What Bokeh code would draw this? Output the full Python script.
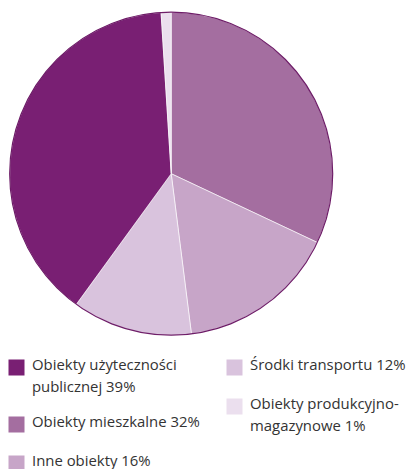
import math
from bokeh.plotting import figure
from bokeh.models import ColumnDataSource
from bokeh.core.properties import value
from bokeh.embed import file_html
from bokeh.resources import INLINE

# Data (clockwise from 12 o'clock)
slice_names = ["Obiekty mieszkalne", "Inne obiekty", "Środki transportu",
               "Obiekty użyteczności publicznej", "Obiekty produkcyjno-magazynowe"]
slice_values = [32, 16, 12, 39, 1]
slice_colors = ["#a46ea0", "#c7a5c8", "#d9c3dd", "#791f73", "#ebdfee"]

# Legend (in display order)
legend_labels = ["Obiekty użyteczności\npublicznej 39%", "Obiekty mieszkalne 32%", "Inne obiekty 16%",
                 "Środki transportu 12%", "Obiekty produkcyjno-\nmagazynowe 1%"]
legend_colors = ["#791f73", "#a46ea0", "#c7a5c8", "#d9c3dd", "#ebdfee"]

W, H = 406, 469
p = figure(width=W, height=H, x_range=(0, W), y_range=(0, H),
           output_backend="svg", toolbar_location=None, min_border=0)
p.axis.visible = False
p.grid.visible = False
p.outline_line_color = None
p.background_fill_color = "white"

cx, cy, r = 170.7, H - 173.2, 161.5
total = sum(slice_values)
starts, ends = [], []
a = math.pi / 2
for v in slice_values:
    starts.append(a)
    a -= v / total * 2 * math.pi
    ends.append(a)
src = ColumnDataSource(dict(start=starts, end=ends, color=slice_colors, name=slice_names))
p.wedge(x=cx, y=cy, radius=r, start_angle="start", end_angle="end", direction="clock",
        fill_color="color", line_color="white", line_width=0.6, source=src)
p.circle(x=cx, y=cy, radius=r, fill_color=None, line_color="#6e1d68", line_width=1.2)

# legend layout
col_x = [8, 8, 8, 226, 226]
row_y = [359, 416, 455, 359, 398]
sq = 16
lx = [c + sq / 2 for c in col_x]
ly = [H - (y + sq / 2) for y in row_y]
p.rect(x=lx, y=ly, width=sq, height=sq, fill_color=legend_colors, line_color=None)
tsrc = ColumnDataSource(dict(x=[c + 23.5 for c in col_x], y=[H - y + 6 for y in row_y], t=legend_labels))
p.text(x="x", y="y", text="t", source=tsrc, text_font=value("Open Sans"), text_font_size="14.9px",
       text_color="#333333", text_baseline="top", text_line_height=1.1)

open("out.html", "w").write(file_html(p, INLINE))
